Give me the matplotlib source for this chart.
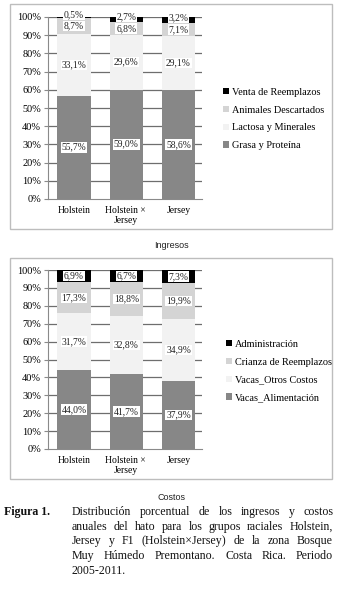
import numpy as np
import matplotlib.pyplot as plt
from matplotlib.patches import Rectangle

grupos = ["Holstein", "Holstein × \nJersey", "Jersey"]

# ingresos (%)
ing_labels = ["Grasa y Proteína", "Lactosa y Minerales", "Animales Descartados", "Venta de Reemplazos"]
grasa = [55.7, 59.0, 58.6]
lactosa = [33.1, 29.6, 29.1]
descartados = [8.7, 6.8, 7.1]
venta = [0.5, 2.7, 3.2]

# costos (%)
cos_labels = ["Vacas_Alimentación", "Vacas_Otros Costos", "Crianza de Reemplazos", "Administración"]
alimentacion = [44.0, 41.7, 37.9]
otros = [31.7, 32.8, 34.9]
crianza = [17.3, 18.8, 19.9]
administracion = [6.9, 6.7, 7.3]

colores = ["#878787", "#f2f2f2", "#d4d4d4", "#000000"]
W, H = 341, 592
serif = ["Liberation Serif"]

fig = plt.figure(figsize=(W / 100, H / 100), dpi=100)


def px_ax(x0, y0, x1, y1):
    return fig.add_axes([x0 / W, 1 - y1 / H, (x1 - x0) / W, (y1 - y0) / H])


def panel(box, axbox, series, labels, leg_xy, title, title_y):
    x0, y0, x1, y1 = box
    fig.patches.append(Rectangle((x0 / W, 1 - y1 / H), (x1 - x0) / W, (y1 - y0) / H,
                                 transform=fig.transFigure, fill=False,
                                 edgecolor="#bdbdbd", linewidth=1))
    ax = px_ax(*axbox)
    data = np.array(series, dtype=float)
    data = data / data.sum(axis=0) * 100
    x = np.arange(len(grupos))
    # gridlines under the bars
    for g in range(10, 101, 10):
        ax.axhline(g, color="#6e6e6e", linewidth=0.9, zorder=1)
    bottom = np.zeros(len(grupos))
    handles = []
    for i, seg in enumerate(data):
        b = ax.bar(x, seg, 0.64, bottom=bottom, color=colores[i], zorder=2)
        handles.append(b)
        for j in range(len(grupos)):
            yl = bottom[j] + seg[j] / 2
            if seg[j] < 4:  # thin top segment: nudge label up so both stay readable
                yl += 1.3
            ax.text(x[j], yl,
                    f"{series[i][j]:.1f}".replace(".", ",") + "%",
                    ha="center", va="center", fontsize=6.9, family=serif,
                    color="#222222", zorder=4 + i,
                    bbox=dict(boxstyle="square,pad=0.08", fc="white", ec="none"))
        bottom += seg
    ax.set_xlim(-0.5, 2.45)
    ax.set_ylim(0, 100)
    ax.set_yticks(np.arange(0, 101, 10))
    ax.set_yticklabels([f"{v}%" for v in range(0, 101, 10)], family=serif, fontsize=7.4)
    ax.set_xticks(x)
    ax.set_xticklabels(grupos, family=serif, fontsize=6.9)
    for s in ["top", "right"]:
        ax.spines[s].set_visible(False)
    for s in ["left", "bottom"]:
        ax.spines[s].set_color("#8a8a8a")
        ax.spines[s].set_zorder(3)
    ax.tick_params(axis="y", length=3, color="#8a8a8a", pad=2)
    ax.tick_params(axis="x", length=0, pad=5)
    fig.legend(handles[::-1], labels[::-1], loc="center left",
               bbox_to_anchor=(leg_xy[0] / W, 1 - leg_xy[1] / H),
               frameon=False, prop={"family": serif, "size": 7.4},
               handlelength=0.55, handleheight=0.55, handletextpad=0.3,
               labelspacing=0.85, borderaxespad=0)
    fig.text(((x0 + x1) / 2) / W, 1 - title_y / H, title, ha="center", va="center",
             family="Liberation Sans", fontsize=6.5, color="#222222")


panel((10, 4, 332, 229), (48, 17, 202, 199),
      [grasa, lactosa, descartados, venta], ing_labels, (219, 119), "Ingresos", 245)
panel((10, 258, 332, 479), (48, 270, 202, 449),
      [alimentacion, otros, crianza, administracion], cos_labels, (222, 371), "Costos", 497)

# caption, justified line by line
lineas = [
    "Distribución porcentual de los ingresos y costos",
    "anuales del hato  para los grupos raciales Holstein,",
    "Jersey y F1 (Holstein×Jersey) de la zona Bosque",
    "Muy Húmedo Premontano. Costa Rica. Periodo",
    "2005-2011.",
]
cap_font = dict(family="Liberation Serif", fontsize=8.6, color="#111111")
fig.text(4 / W, 1 - 512 / H, "Figura 1.", va="center", ha="left",
         fontweight="bold", **cap_font)
renderer = fig.canvas.get_renderer()
x_l, x_r = 72, 333
for k, linea in enumerate(lineas):
    y = 1 - (512 + k * 14.7) / H
    palabras = linea.split()
    if k == len(lineas) - 1:
        fig.text(x_l / W, y, linea, va="center", ha="left", **cap_font)
        continue
    objs = [fig.text(0, y, p, va="center", ha="left", **cap_font) for p in palabras]
    anchos = [o.get_window_extent(renderer).width for o in objs]
    hueco = (x_r - x_l - sum(anchos)) / (len(palabras) - 1)
    pos = x_l
    for o, w in zip(objs, anchos):
        o.set_x(pos / W)
        pos += w + hueco

fig.savefig("out.png", dpi=100)
